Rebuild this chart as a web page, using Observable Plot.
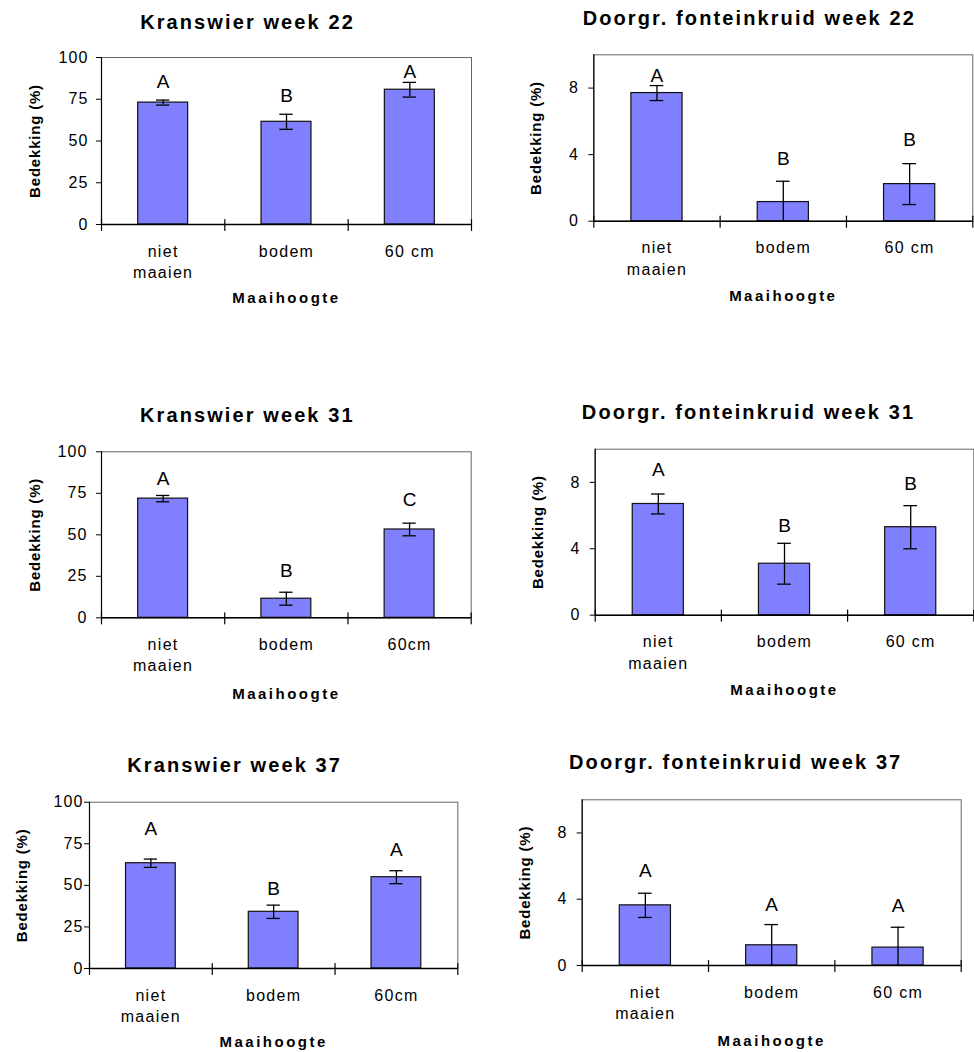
<!DOCTYPE html>
<html>
<head>
<meta charset="utf-8">
<script src="https://cdn.jsdelivr.net/npm/d3@7"></script>
<script src="https://cdn.jsdelivr.net/npm/@observablehq/plot@0.6"></script>
<style>
  body { margin: 0; background: #fff; }
  #chart { position: relative; width: 974px; height: 1052px; font-family: "Liberation Sans", Arial, sans-serif; }
  #chart > div { position: absolute; }
  text[aria-label="title"] { letter-spacing: 2.1px; }
  text[aria-label="x title"] { letter-spacing: 2.5px; }
  text[aria-label="y title"] { letter-spacing: 0.8px; }
  text[aria-label="category"] { letter-spacing: 1.3px; }
  g[aria-label="y-axis tick label"] text { letter-spacing: 1.2px; }
</style>
</head>
<body>
<div id="chart"></div>
<script>
// ---- data ----
const titles = [
  "Kranswier week 22", "Doorgr. fonteinkruid week 22",
  "Kranswier week 31", "Doorgr. fonteinkruid week 31",
  "Kranswier week 37", "Doorgr. fonteinkruid week 37"
];
const categoryLabels = [
  ["niet\nmaaien", "bodem", "60 cm"],
  ["niet\nmaaien", "bodem", "60 cm"],
  ["niet\nmaaien", "bodem", "60cm"],
  ["niet\nmaaien", "bodem", "60 cm"],
  ["niet\nmaaien", "bodem", "60cm"],
  ["niet\nmaaien", "bodem", "60 cm"]
];
const meanCover = [
  [73.0, 61.5, 80.7],
  [7.70, 1.15, 2.23],
  [71.8, 11.5, 53.2],
  [6.70, 3.10, 5.30],
  [63.3, 34.1, 54.9],
  [3.63, 1.22, 1.08]
];
const seCover = [
  [1.5, 4.5, 4.4],
  [0.45, 1.25, 1.23],
  [1.9, 3.9, 3.8],
  [0.60, 1.23, 1.30],
  [2.5, 4.0, 3.9],
  [0.73, 1.25, 1.23]
];
const groupLetters = [
  ["A", "B", "A"],
  ["A", "B", "B"],
  ["A", "B", "C"],
  ["A", "B", "B"],
  ["A", "B", "A"],
  ["A", "A", "A"]
];
const letterLevels = [
  [85.5, 77.0, 91.6],
  [8.74, 3.73, 4.86],
  [83.7, 28.5, 70.8],
  [8.75, 5.40, 7.93],
  [83.7, 47.6, 71.1],
  [5.72, 3.63, 3.57]
];
const yMax = [100, 10, 100, 10, 100, 10];
const yTicks = [
  [0, 25, 50, 75, 100], [0, 4, 8],
  [0, 25, 50, 75, 100], [0, 4, 8],
  [0, 25, 50, 75, 100], [0, 4, 8]
];
const xTitle = "Maaihoogte";
const yTitle = "Bedekking (%)";

// ---- layout (page coordinates) ----
const layout = [
  {left: 0,   top: 0,   w: 487, h: 320, L: 101,   R: 471,   T: 57,    B: 224,   tdx: -39, tdy: -34.8, xdy: 73.5, ydx: -66,   pad: 7.8},
  {left: 487, top: 0,   w: 487, h: 320, L: 593.3, R: 972.3, T: 54.3,  B: 220.7, tdx: -34, tdy: -36,   xdy: 75.3, ydx: -57.6, pad: 9.8},
  {left: 0,   top: 380, w: 487, h: 330, L: 101,   R: 470.7, T: 451.3, B: 617.3, tdx: -39, tdy: -36.3, xdy: 76,   ydx: -66,   pad: 8.8},
  {left: 487, top: 380, w: 487, h: 330, L: 594.7, R: 973.3, T: 448.7, B: 614.7, tdx: -36, tdy: -37,   xdy: 74.6, ydx: -57.4, pad: 9.5},
  {left: 0,   top: 730, w: 487, h: 322, L: 89,    R: 457.3, T: 801.7, B: 968,   tdx: -39, tdy: -36.7, xdy: 73.7, ydx: -67.3, pad: 0.8},
  {left: 487, top: 730, w: 487, h: 322, L: 581.7, R: 960.7, T: 799.3, B: 965,   tdx: -36, tdy: -37.6, xdy: 75.7, ydx: -56.7, pad: 9.5}
];
const barFrac = 0.405;
const capHalf = 0.054;
const boundaries = [0, 1, 2, 3];
const tickShape = {draw(context, l) { context.moveTo(0, 0); context.lineTo(0, -l); }};

const chart = document.getElementById("chart");

titles.forEach((title, p) => {
  const lay = layout[p];
  const rows = meanCover[p].map((m, i) => ({
    i, mean: m, err: seCover[p][i], letter: groupLetters[p][i], ly: letterLevels[p][i], label: categoryLabels[p][i]
  }));
  const plot = Plot.plot({
    width: lay.w,
    height: lay.h,
    marginLeft: lay.L - lay.left,
    marginRight: lay.left + lay.w - lay.R,
    marginTop: lay.T - lay.top,
    marginBottom: lay.top + lay.h - lay.B,
    style: {fontFamily: "'Liberation Sans', Arial, sans-serif", fontSize: "16px", background: "transparent", overflow: "visible", color: "#000"},
    x: {domain: [0, 3], axis: null},
    y: {domain: [0, yMax[p]]},
    marks: [
      Plot.frame({stroke: "#666", strokeWidth: 1}),
      Plot.rect(rows, {
        x1: d => d.i + (1 - barFrac) / 2,
        x2: d => d.i + (1 + barFrac) / 2,
        y1: 0, y2: d => d.mean,
        fill: "#8080ff", stroke: "#111", strokeWidth: 1.2
      }),
      Plot.ruleX(rows, {x: d => d.i + 0.5, y1: d => Math.max(0, d.mean - d.err), y2: d => d.mean + d.err, stroke: "#000", strokeWidth: 1.3}),
      Plot.ruleY(rows, {y: d => d.mean + d.err, x1: d => d.i + 0.5 - capHalf, x2: d => d.i + 0.5 + capHalf, stroke: "#000", strokeWidth: 1.3}),
      Plot.ruleY(rows.filter(d => d.mean - d.err > 0), {y: d => d.mean - d.err, x1: d => d.i + 0.5 - capHalf, x2: d => d.i + 0.5 + capHalf, stroke: "#000", strokeWidth: 1.3}),
      Plot.ruleX([0], {stroke: "#000", strokeWidth: 1.2}),
      Plot.ruleY([0], {stroke: "#000", strokeWidth: 1.4}),
      Plot.axisY(yTicks[p], {tickSize: 5, tickPadding: lay.pad, fontSize: 16, label: null}),
      Plot.vector(boundaries, {x: d => d, y: 0, length: 11, rotate: 0, anchor: "start", dy: 6, shape: tickShape, stroke: "#000", strokeWidth: 1.2}),
      Plot.text(rows, {x: d => d.i + 0.5, y: d => d.ly, text: d => d.letter, fontSize: 19}),
      Plot.text(rows, {x: d => d.i + 0.5, y: 0, text: d => d.label, dy: 17, lineAnchor: "top", lineHeight: 1.34, fontSize: 16, ariaLabel: () => "category"}),
      Plot.text([title], {text: d => d, frameAnchor: "top", textAnchor: "middle", lineAnchor: "middle", dx: lay.tdx, dy: lay.tdy, fontSize: 20, fontWeight: "bold", ariaLabel: () => "title"}),
      Plot.text([xTitle], {text: d => d, frameAnchor: "bottom", textAnchor: "middle", lineAnchor: "middle", dy: lay.xdy, fontSize: 15, fontWeight: "bold", ariaLabel: () => "x title"}),
      Plot.text([yTitle], {text: d => d, frameAnchor: "left", textAnchor: "middle", lineAnchor: "middle", dx: lay.ydx, rotate: -90, fontSize: 15, fontWeight: "bold", ariaLabel: () => "y title"})
    ]
  });
  const holder = document.createElement("div");
  holder.style.left = lay.left + "px";
  holder.style.top = lay.top + "px";
  holder.style.width = lay.w + "px";
  holder.style.height = lay.h + "px";
  holder.appendChild(plot);
  chart.appendChild(holder);
});
</script>
</body>
</html>
